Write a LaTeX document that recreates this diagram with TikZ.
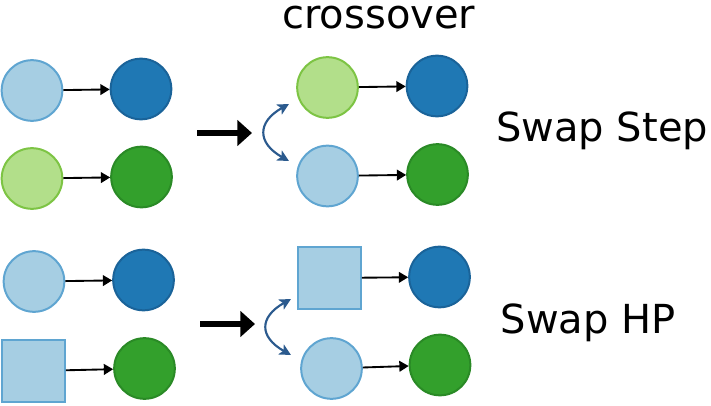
\documentclass[tikz,border=0pt]{standalone}
\usepackage{fontspec}
\setmainfont{DejaVu Sans}
\usetikzlibrary{arrows.meta}
\definecolor{lblue}{HTML}{A6CEE3}
\definecolor{lblueline}{HTML}{5FA5D1}
\definecolor{dblue}{HTML}{1F78B4}
\definecolor{dblueline}{HTML}{1A6399}
\definecolor{lgreen}{HTML}{B2DF8A}
\definecolor{lgreenline}{HTML}{7DC444}
\definecolor{dgreen}{HTML}{33A02C}
\definecolor{dgreenline}{HTML}{2A8A26}
\definecolor{swapline}{HTML}{2B5A8E}
\tikzset{
  ball/.style={circle,minimum size=45.5pt,inner sep=0pt,line width=1.5pt},
  lb/.style={ball,fill=lblue,draw=lblueline},
  db/.style={ball,fill=dblue,draw=dblueline},
  lg/.style={ball,fill=lgreen,draw=lgreenline},
  dg/.style={ball,fill=dgreen,draw=dgreenline},
  hp/.style={rectangle,minimum size=47pt,inner sep=0pt,line width=1.5pt,fill=lblue,draw=lblueline},
  link/.style={-{Triangle[length=7pt,width=8pt]},line width=1.4pt,black},
  bigarrow/.style={-{Triangle[length=11pt,width=19pt]},line width=3.8pt,black},
  swaparrow/.style={{Stealth[length=8.5pt,width=8.5pt,inset=2pt]}-{Stealth[length=8.5pt,width=8.5pt,inset=2pt]},line width=1.6pt,swapline},
  label/.style={font=\fontsize{30}{36}\selectfont,inner sep=0pt}
}
\begin{document}
\begin{tikzpicture}[x=0.75pt,y=0.75pt,yscale=-1,xscale=1]
\useasboundingbox (0,0) rectangle (711,406);
% swap step, before
\node[lb] (a1) at (32,90.5) {};
\node[db] (b1) at (141,89) {};
\node[lg] (a2) at (32,178.5) {};
\node[dg] (b2) at (141.5,177) {};
\draw[link] (a1) -- (b1);
\draw[link] (a2) -- (b2);
% swap step, after
\node[lg] (c1) at (327.5,87.5) {};
\node[db] (d1) at (437,86) {};
\node[lb] (c2) at (327.5,176) {};
\node[dg] (d2) at (437.5,174.5) {};
\draw[link] (c1) -- (d1);
\draw[link] (c2) -- (d2);
% swap HP, before
\node[lb] (e1) at (34,281.5) {};
\node[db] (f1) at (143.5,280) {};
\node[hp] (e2) at (33.5,371) {};
\node[dg] (f2) at (144.5,368.5) {};
\draw[link] (e1) -- (f1);
\draw[link] (e2) -- (f2);
% swap HP, after
\node[hp] (g1) at (329.5,278) {};
\node[db] (h1) at (439.5,277) {};
\node[lb] (g2) at (331.5,368.5) {};
\node[dg] (h2) at (440,365) {};
\draw[link] (g1) -- (h1);
\draw[link] (g2) -- (h2);
% big arrows
\coordinate (p1) at (197,133);
\coordinate (q1) at (252,133);
\coordinate (p2) at (200,324);
\coordinate (q2) at (255,324);
\draw[bigarrow] (p1) -- (q1);
\draw[bigarrow] (p2) -- (q2);
% crossover arrows
\coordinate (s1) at (289,104);
\coordinate (t1) at (289,161);
\coordinate (s2) at (291,299);
\coordinate (t2) at (291,355);
\draw[swaparrow] (s1) .. controls (257,122) and (257,143) .. (t1);
\draw[swaparrow] (s2) .. controls (259,317) and (259,337) .. (t2);
% labels
\node[label,anchor=base west] (cross) at (282,28.5) {crossover};
\node[label,anchor=base west] (step) at (496,142) {Swap Step};
\node[label,anchor=base west] (hpt) at (500.5,333) {Swap HP};
\end{tikzpicture}
\end{document}
